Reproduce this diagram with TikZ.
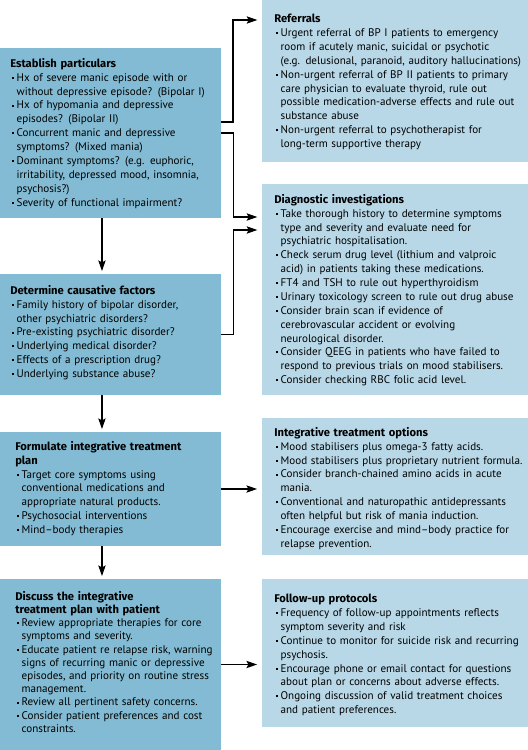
\documentclass[tikz,border=0pt]{standalone}
\usepackage{fontspec}
\setmainfont{PT Sans}
\newfontfamily\hdfont{Fira Sans}
\usetikzlibrary{arrows.meta,fit}
\definecolor{leftblue}{RGB}{130,187,211}
\definecolor{rightblue}{RGB}{184,216,232}
\tikzstyle{arrow} = [line width=0.8pt,->,>={Stealth[length=8pt,width=5.5pt,inset=1.5pt]}]
\tikzstyle{stepbox} = [inner sep=0pt,fill=leftblue]
\tikzstyle{outbox} = [inner sep=0pt,fill=rightblue]
\tikzstyle{boxtext} = [anchor=north west,inner sep=0pt,align=left,font=\fontsize{8.3}{10.4}\selectfont]
\newcommand{\bul}{\par\noindent\hangindent=4.8pt\hangafter=1\makebox[4.8pt][l]{\hspace{1.2pt}\raisebox{1.8pt}{\rule{1.5pt}{1.5pt}}}}
\newcommand{\hd}[1]{{\hdfont\fontsize{8.4}{10.4}\selectfont\bfseries #1}}

\begin{document}
\begin{tikzpicture}[x=0.75pt,y=0.75pt,yscale=-1,xscale=1]
\useasboundingbox (0,0) rectangle (528,750);

%Shape: Rectangle [id:left boxes]
\node[stepbox, fit={(0,48) (221,218)}] (est) {};
\node[stepbox, fit={(0,274) (221,395)}] (cause) {};
\node[stepbox, fit={(0,432) (221,546)}] (plan) {};
\node[stepbox, fit={(0,579) (221,750)}] (discuss) {};
%Shape: Rectangle [id:right boxes]
\node[outbox, fit={(262,0) (528,162)}] (ref) {};
\node[outbox, fit={(262,184) (528,395)}] (diag) {};
\node[outbox, fit={(262,418) (528,555)}] (opts) {};
\node[outbox, fit={(262,579) (528,727)}] (follow) {};

%Straight Lines [id:bends]
\coordinate (est out) at (221,122);
\coordinate (ref in) at (262,20);
\coordinate (diag in1) at (262,217);
\coordinate (diag in2) at (262,230);
\draw[arrow, shorten >=3.5pt] (est out) -- ++(12,0) |- (ref in);
\draw[arrow, shorten >=3.5pt] (est.east) -- ++(12,0) |- (diag in1);
\draw[arrow, shorten >=3.5pt] (cause.east) -- ++(12,0) |- (diag in2);
\draw[arrow, shorten >=3.5pt] (plan.east) -- (plan.east -| opts.west);
\draw[arrow, shorten >=3.5pt] (discuss.east) -- (discuss.east -| follow.west);
%Straight Lines [id:down]
\draw[arrow, shorten >=2pt] ([xshift=-6.4pt]est.south) -- ([xshift=-6.4pt]cause.north);
\draw[arrow, shorten >=2pt] ([xshift=-6.4pt]cause.south) -- ([xshift=-6.4pt]plan.north);
\draw[arrow, shorten >=2pt] ([xshift=-6.4pt]plan.south) -- ([xshift=-6.4pt]discuss.north);

% Text Node
\node[boxtext, text width=160pt] (est txt) at (10,58) {\hd{Establish particulars}
\bul Hx of severe manic episode with or\newline without depressive episode? (Bipolar I)
\bul Hx of hypomania and depressive\newline episodes? (Bipolar II)
\bul Concurrent manic and depressive\newline symptoms? (Mixed mania)
\bul Dominant symptoms? (e.g. euphoric,\newline irritability, depressed mood, insomnia,\newline psychosis?)
\bul Severity of functional impairment?\par};
% Text Node
\node[boxtext, text width=160pt] (cause txt) at (10,285) {\hd{Determine causative factors}
\bul Family history of bipolar disorder,\newline other psychiatric disorders?
\bul Pre-existing psychiatric disorder?
\bul Underlying medical disorder?
\bul Effects of a prescription drug?
\bul Underlying substance abuse?\par};
% Text Node
\node[boxtext, text width=160pt] (plan txt) at (15,441) {\hd{Formulate integrative treatment}\newline\hd{plan}
\bul Target core symptoms using\newline conventional medications and\newline appropriate natural products.
\bul Psychosocial interventions
\bul Mind--body therapies\par};
% Text Node
\node[boxtext, text width=160pt, font=\fontsize{8.3}{9.9}\selectfont] (discuss txt) at (15,591) {\hd{Discuss the integrative}\newline\hd{treatment plan with patient}
\bul Review appropriate therapies for core\newline symptoms and severity.
\bul Educate patient re relapse risk, warning\newline signs of recurring manic or depressive\newline episodes, and priority on routine stress\newline management.
\bul Review all pertinent safety concerns.
\bul Consider patient preferences and cost\newline constraints.\par};
% Text Node
\node[boxtext, text width=190pt] (ref txt) at (274,14) {\hd{Referrals}
\bul Urgent referral of BP I patients to emergency\newline room if acutely manic, suicidal or psychotic\newline (e.g. delusional, paranoid, auditory hallucinations)
\bul Non-urgent referral of BP II patients to primary\newline care physician to evaluate thyroid, rule out\newline possible medication-adverse effects and rule out\newline substance abuse
\bul Non-urgent referral to psychotherapist for\newline long-term supportive therapy\par};
% Text Node
\node[boxtext, text width=190pt] (diag txt) at (274,194) {\hd{Diagnostic investigations}
\bul Take thorough history to determine symptoms\newline type and severity and evaluate need for\newline psychiatric hospitalisation.
\bul Check serum drug level (lithium and valproic\newline acid) in patients taking these medications.
\bul FT4 and TSH to rule out hyperthyroidism
\bul Urinary toxicology screen to rule out drug abuse
\bul Consider brain scan if evidence of\newline cerebrovascular accident or evolving\newline neurological disorder.
\bul Consider QEEG in patients who have failed to\newline respond to previous trials on mood stabilisers.
\bul Consider checking RBC folic acid level.\par};
% Text Node
\node[boxtext, text width=190pt] (opts txt) at (274,427) {\hd{Integrative treatment options}
\bul Mood stabilisers plus omega-3 fatty acids.
\bul Mood stabilisers plus proprietary nutrient formula.
\bul Consider branch-chained amino acids in acute\newline mania.
\bul Conventional and naturopathic antidepressants\newline often helpful but risk of mania induction.
\bul Encourage exercise and mind--body practice for\newline relapse prevention.\par};
% Text Node
\node[boxtext, text width=190pt] (follow txt) at (274,594) {\hd{Follow-up protocols}
\bul Frequency of follow-up appointments reflects\newline symptom severity and risk
\bul Continue to monitor for suicide risk and recurring\newline psychosis.
\bul Encourage phone or email contact for questions\newline about plan or concerns about adverse effects.
\bul Ongoing discussion of valid treatment choices\newline and patient preferences.\par};

\end{tikzpicture}
\end{document}
